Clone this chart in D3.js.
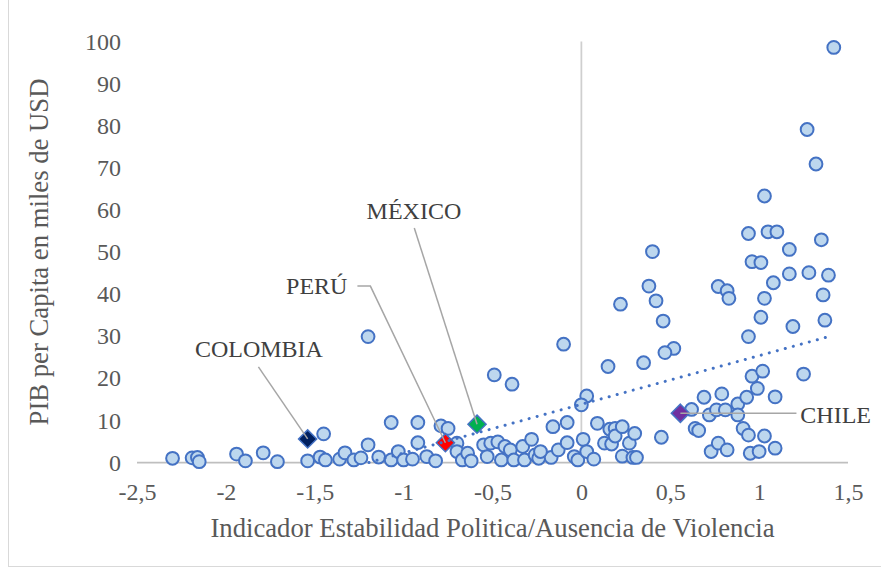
<!DOCTYPE html>
<html>
<head>
<meta charset="utf-8">
<script src="https://cdn.jsdelivr.net/npm/d3@7"></script>
<style>
  html, body { margin: 0; padding: 0; background: #fff; }
  svg { display: block; font-family: "Liberation Serif", "Times New Roman", serif; }
</style>
</head>
<body>
<svg id="chart" width="881" height="569"></svg>
<script>
// ---- Data ----
const stabilidad = [
  -2.30,-2.19,-2.16,-2.15,-1.94,-1.89,-1.79,-1.71,-1.54,-1.47,-1.44,-1.45,-1.36,-1.33,-1.28,-1.24,-1.20,-1.14,
  -1.07,-1.07,-1.03,-1.00,-0.95,-0.92,-0.92,-1.20,-0.87,-0.82,-0.79,-0.75,-0.70,-0.70,-0.67,-0.64,-0.62,-0.55,
  -0.53,-0.51,-0.47,-0.45,-0.43,-0.40,-0.38,-0.33,-0.32,-0.28,-0.26,-0.24,-0.17,-0.16,-0.13,-0.49,-0.39,-0.10,
  -0.23,-0.08,-0.04,-0.02,0.01,0.03,0.07,0.09,0.13,0.16,0.17,0.19,0.19,0.23,0.27,0.30,0.23,0.29,0.31,0.45,
  0.03,0.00,-0.08,0.62,0.69,0.79,0.72,0.76,0.81,0.88,0.88,0.93,0.99,1.09,0.64,0.66,0.91,0.94,1.03,0.73,0.77,
  0.82,0.95,1.00,1.09,0.94,1.05,1.10,1.35,1.17,0.40,0.96,1.01,1.28,1.17,1.39,1.08,0.38,0.77,0.82,0.83,1.03,
  1.36,0.42,0.22,0.46,1.01,1.37,1.19,0.94,0.52,0.47,0.15,0.35,0.96,1.02,1.25,1.03,1.42,1.27,1.32
];
const pib = [
  1.0,1.1,1.2,0.2,2.0,0.4,2.3,0.2,0.4,1.3,0.6,6.8,0.8,2.3,0.6,1.1,4.2,1.3,
  9.5,0.6,2.6,0.6,0.8,9.5,4.7,29.9,1.4,0.4,8.7,8.1,4.6,2.6,0.6,2.2,0.4,4.2,
  1.4,4.6,4.9,0.6,3.8,3.0,0.6,3.8,0.6,5.5,1.8,1.0,1.2,8.5,3.0,20.8,18.6,28.1,
  2.6,4.7,1.4,0.6,5.5,2.6,0.8,9.3,4.6,7.9,4.4,8.1,6.3,8.5,4.6,6.9,1.5,1.2,1.2,6.0,
  15.8,13.7,9.5,12.6,15.5,16.3,11.3,12.5,12.5,13.9,11.3,15.5,17.6,15.6,8.1,7.6,8.1,6.5,6.3,2.6,4.6,
  3.0,2.2,2.6,3.4,54.4,54.8,54.8,52.9,50.6,50.1,47.7,47.5,45.1,44.8,44.5,42.7,41.9,41.8,40.8,39.0,39.0,
  39.8,38.4,37.6,33.6,34.5,33.8,32.3,29.9,27.1,26.1,22.8,23.7,20.5,21.7,21.0,63.3,98.6,79.1,70.9
];

const paises      = ["COLOMBIA", "PERÚ", "MÉXICO", "CHILE"];
const paisX       = [-1.54, -0.765, -0.587, 0.557];
const paisY       = [5.6, 4.7, 9.1, 11.7];
const paisColor   = ["#002060", "#FF0000", "#00B050", "#7030A0"];

const xTicks = [-2.5, -2, -1.5, -1, -0.5, 0, 0.5, 1, 1.5];
const yTicks = [0, 10, 20, 30, 40, 50, 60, 70, 80, 90, 100];

// trendline end points (linear trendline as drawn in the reference)
const trendX = [-1.195, 1.40];
const trendY = [0, 30.0];

// label placement (in data units)
const labelX   = [-1.814, -1.316, -0.942, 1.232];
const labelY   = [25.0, 40.0, 57.8, 9.4];
const labelAnchor = ["middle", "end", "middle", "start"];
// leader line paths (data units), ending at the country point
const leaderPts = [
  [[-1.817, 22.7], [-1.54, 5.6]],
  [[-1.26, 41.9], [-1.187, 41.9], [-0.765, 4.7]],
  [[-0.94, 55.7], [-0.587, 9.1]],
  [[1.21, 11.7], [0.557, 11.7]]
];

// ---- Chart ----
const svg = d3.select("#chart");
const W = 881, H = 569;

svg.append("rect").attr("x", 8.5).attr("y", -2).attr("width", W + 10).attr("height", 568.5)
  .attr("fill", "#fff").attr("stroke", "#d9d9d9").attr("stroke-width", 1);

const x = d3.scaleLinear().domain([-2.5, 1.5]).range([137, 848]);
const y = d3.scaleLinear().domain([0, 100]).range([462.5, 41.5]);

const FONT = "'Liberation Serif','Times New Roman',serif";

// y axis labels
const yAxis = d3.axisLeft(y).tickValues(yTicks).tickSize(0).tickPadding(0).tickFormat(d => String(d));
const gy = svg.append("g").attr("transform", "translate(121,0)").call(yAxis);
gy.select(".domain").remove();
gy.selectAll("text").attr("font-size", 24).attr("fill", "#595959").attr("font-family", FONT);

// x axis labels
const fmtX = d => String(d).replace(".", ",");
const xAxis = d3.axisBottom(x).tickValues(xTicks).tickSize(0).tickPadding(0).tickFormat(fmtX);
const gx = svg.append("g").attr("transform", "translate(0,483)").call(xAxis);
gx.select(".domain").remove();
gx.selectAll("text").attr("font-size", 24).attr("fill", "#595959").attr("font-family", FONT);

// axis lines
svg.append("line").attr("x1", x(-2.5)).attr("x2", x(1.5)).attr("y1", y(0)).attr("y2", y(0))
  .attr("stroke", "#bfbfbf").attr("stroke-width", 1.75);
svg.append("line").attr("x1", x(0)).attr("x2", x(0)).attr("y1", y(0)).attr("y2", y(100))
  .attr("stroke", "#cfcfcf").attr("stroke-width", 1.75);

// axis titles
svg.append("text").attr("x", (x(-2.5) + x(1.5)) / 2).attr("y", 537)
  .attr("text-anchor", "middle").attr("font-size", 26.7).attr("fill", "#595959")
  .text("Indicador Estabilidad Politica/Ausencia de Violencia");
svg.append("text").attr("transform", `translate(48,${(y(0) + y(100)) / 2}) rotate(-90)`)
  .attr("text-anchor", "middle").attr("font-size", 26.7).attr("fill", "#595959")
  .text("PIB per Capita en miles de USD");

// points
const pts = stabilidad.map((v, i) => ({ x: v, y: pib[i] }));
svg.append("g").selectAll("circle").data(pts).join("circle")
  .attr("cx", d => x(d.x)).attr("cy", d => y(d.y)).attr("r", 6.4)
  .attr("fill", "#BDD7EE").attr("stroke", "#4472C4").attr("stroke-width", 2);

// highlighted countries (diamonds)
const diamond = d3.symbol().type(d3.symbolDiamond2).size(210);
svg.append("g").selectAll("path").data(paises).join("path")
  .attr("d", diamond)
  .attr("transform", (d, i) => `translate(${x(paisX[i])},${y(paisY[i])})`)
  .attr("fill", (d, i) => paisColor[i]).attr("stroke", "#4472C4").attr("stroke-width", 1.5);

// trendline
const line = d3.line().x(d => x(d[0])).y(d => y(d[1]));
svg.append("path").datum(trendX.map((v, i) => [v, trendY[i]]))
  .attr("d", line).attr("fill", "none").attr("stroke", "#4472C4")
  .attr("stroke-width", 3).attr("stroke-linecap", "round").attr("stroke-dasharray", "0.1 8.2");

// leader lines
svg.append("g").selectAll("path").data(leaderPts).join("path")
  .attr("d", line).attr("fill", "none").attr("stroke", "#a6a6a6").attr("stroke-width", 1.5);

// labels
svg.append("g").selectAll("text").data(paises).join("text")
  .attr("x", (d, i) => x(labelX[i])).attr("y", (d, i) => y(labelY[i]))
  .attr("text-anchor", (d, i) => labelAnchor[i])
  .attr("font-size", 24).attr("fill", "#404040").text(d => d);
</script>
</body>
</html>
